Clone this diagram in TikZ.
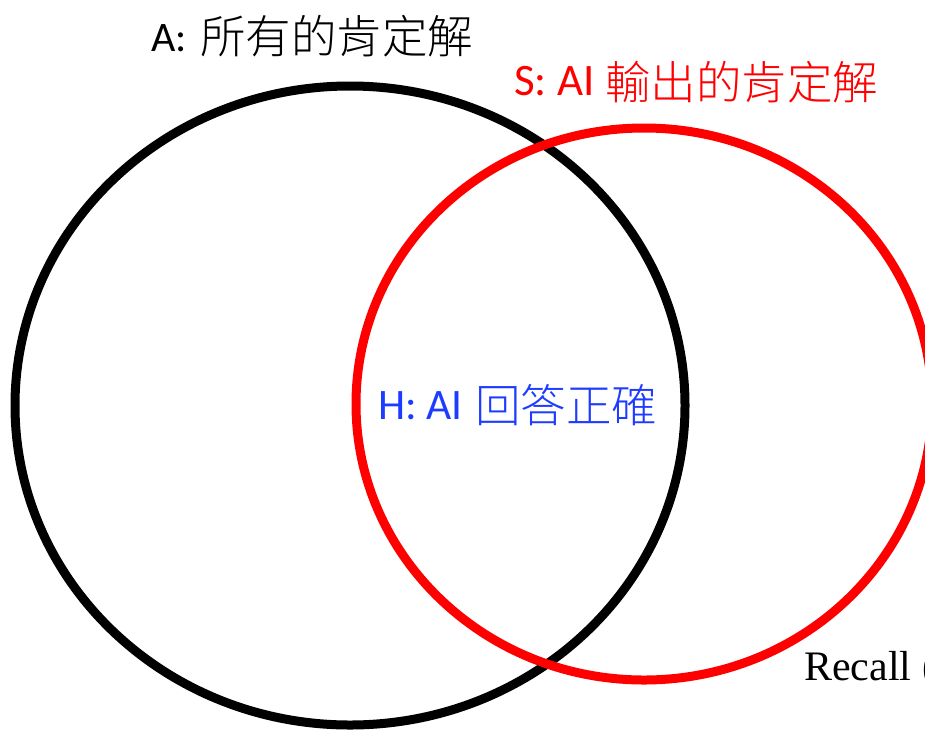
\documentclass[tikz,border=0pt]{standalone}
\usepackage{fontspec}
\setmainfont{Liberation Serif}
\newfontfamily\lat{Carlito}
\newfontfamily\cjk{Noto Sans CJK TC}[UprightFont=* Light]
\definecolor{hblue}{RGB}{30,60,255}
\tikzset{
  setA/.style={draw=black,line width=9pt},
  setS/.style={draw=red,line width=9pt},
  lbl/.style={inner sep=0pt},
  cjklbl/.style={inner sep=0pt,anchor=west,font=\cjk\fontsize{45.5}{50}\selectfont}
}
\begin{document}
\begin{tikzpicture}[x=1pt,y=-1pt]
\useasboundingbox (0,0) rectangle (925,729);
\begin{scope}
\clip (0,0) rectangle (925,729);
\draw[setA] (350,405.5) ellipse [x radius=335, y radius=319.5];
\draw[setS] (644,404) ellipse [x radius=288, y radius=276];
\node[lbl,anchor=base west,font=\fontsize{42}{46}\selectfont] (recall) at (804,680) {Recall (};
\end{scope}
\node[lbl,anchor=base west,font=\lat\fontsize{42}{46}\selectfont] (a) at (151,51) {A:};
\node[cjklbl] (acjk) at (200,36) {所有的肯定解};
\node[lbl,anchor=base west,font=\lat\fontsize{45}{48}\selectfont,text=red] (s) at (514,95) {S: AI};
\node[cjklbl,text=red] (scjk) at (605,82) {輸出的肯定解};
\node[lbl,anchor=base west,font=\lat\fontsize{43.5}{46}\selectfont,text=hblue] (h) at (378,419) {H: AI};
\node[cjklbl,text=hblue] (hcjk) at (475,405) {回答正確};
\end{tikzpicture}
\end{document}
